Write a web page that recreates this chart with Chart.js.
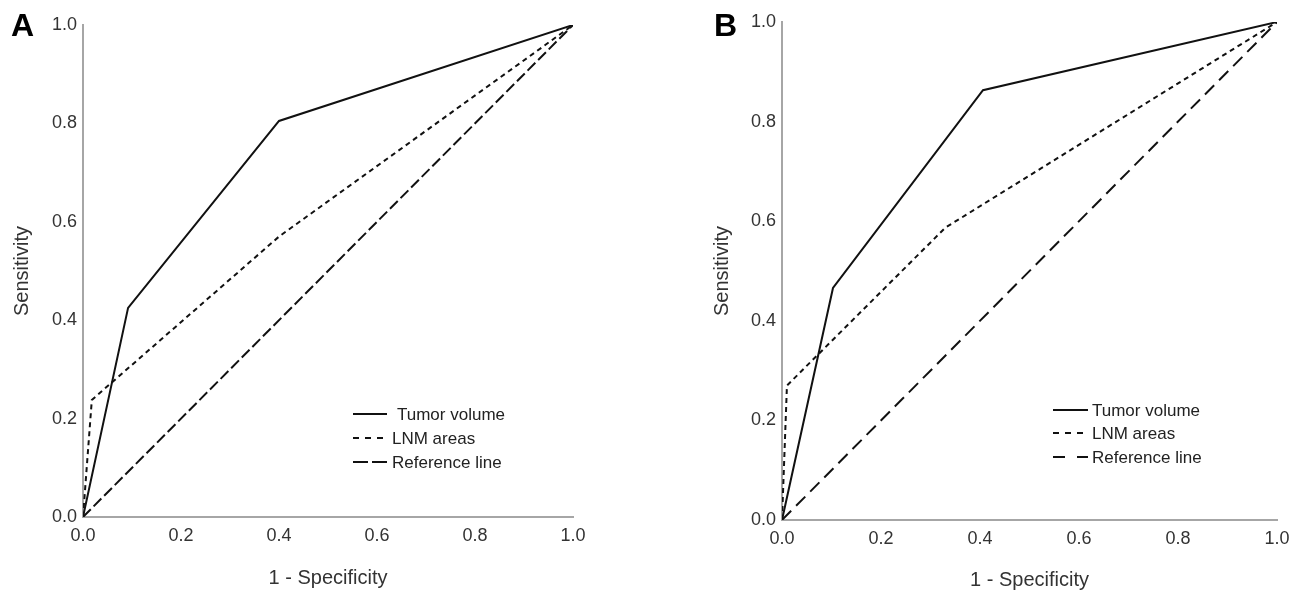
<!DOCTYPE html>
<html><head><meta charset="utf-8">
<script src="https://cdn.jsdelivr.net/npm/chart.js@4.4.1/dist/chart.umd.min.js"></script>
<style>
html,body{margin:0;padding:0;background:#fff;width:1305px;height:597px;overflow:hidden;}
.wrap{position:absolute;top:0;height:597px;}
#wa{left:0;width:650px;}
#wb{left:700px;width:605px;}
.lbl{position:absolute;font:bold 32px "Liberation Sans",Arial,sans-serif;color:#000;line-height:32px;}
</style></head><body>
<div class="wrap" id="wa"><canvas id="ca"></canvas></div>
<div class="wrap" id="wb"><canvas id="cb"></canvas></div>
<div class="lbl" style="left:11px;top:9px">A</div>
<div class="lbl" style="left:714px;top:9px">B</div>
<script>
// ---- data ----
const tickValues = [0, 0.2, 0.4, 0.6, 0.8, 1.0];
const seriesNames = ['Tumor volume', 'LNM areas', 'Reference line'];
const xTitle = '1 - Specificity';
const yTitle = 'Sensitivity';

// Panel A
const aTumorX = [0, 0.092, 0.40, 1.0];
const aTumorY = [0, 0.425, 0.805, 1.0];
const aLnmX   = [0, 0.018, 0.40, 1.0];
const aLnmY   = [0, 0.238, 0.570, 1.0];
const aRefX   = [0, 1.0];
const aRefY   = [0, 1.0];

// Panel B
const bTumorX = [0, 0.103, 0.406, 1.0];
const bTumorY = [0, 0.466, 0.863, 1.0];
const bLnmX   = [0, 0.010, 0.330, 1.0];
const bLnmY   = [0, 0.270, 0.587, 1.0];
const bRefX   = [0, 1.0];
const bRefY   = [0, 1.0];

const FONT = '"Liberation Sans", Arial, sans-serif';
const pts = (xs, ys) => xs.map((x, i) => ({x, y: ys[i]}));

const rocLegend = {
  id: 'rocLegend',
  afterDatasetsDraw(chart, args, o) {
    const ctx = chart.ctx;
    ctx.save();
    chart.data.datasets.forEach((ds, i) => {
      const y = o.rows[i];
      ctx.beginPath();
      ctx.setLineDash(o.dashes[i]);
      ctx.lineWidth = 2;
      ctx.strokeStyle = '#111';
      ctx.moveTo(o.x0, y);
      ctx.lineTo(o.x1, y);
      ctx.stroke();
      ctx.setLineDash([]);
      ctx.fillStyle = '#222';
      ctx.font = '17px ' + FONT;
      ctx.textBaseline = 'middle';
      ctx.fillText(ds.label, o.tx[i], y + 1);
    });
    ctx.restore();
  }
};

function makeChart(id, data, cfg) {
  const ds = [
    {label: seriesNames[0], data: pts(data[0], data[1]), borderDash: []},
    {label: seriesNames[1], data: pts(data[2], data[3]), borderDash: [5, 4]},
    {label: seriesNames[2], data: pts(data[4], data[5]), borderDash: cfg.refDash}
  ].map(d => Object.assign(d, {showLine: true, borderColor: '#111', borderWidth: 2,
        pointRadius: 0, fill: false, tension: 0, borderCapStyle: 'butt'}));
  const tickCb = v => Number(v).toFixed(1);
  const setTicks = s => { s.ticks = tickValues.map(v => ({value: v})); };
  return new Chart(document.getElementById(id), {
    type: 'scatter',
    data: {datasets: ds},
    plugins: [rocLegend],
    options: {
      responsive: true, maintainAspectRatio: false, animation: false,
      layout: {padding: cfg.pad},
      plugins: {legend: {display: false}, tooltip: {enabled: false}, rocLegend: cfg.legend},
      scales: {
        x: {
          type: 'linear', min: 0, max: 1,
          afterBuildTicks: setTicks,
          afterFit: s => { s.height = cfg.xh; },
          grid: {display: false},
          border: {display: true, color: '#a6a6a6', width: 2},
          ticks: {callback: tickCb, font: {size: 18, family: FONT}, color: '#333', padding: 0, maxRotation: 0, autoSkip: false},
          title: {display: true, text: xTitle, font: {size: 20, family: FONT}, color: '#333', padding: {top: 4, bottom: cfg.xtp}}
        },
        y: {
          type: 'linear', min: 0, max: 1,
          afterBuildTicks: setTicks,
          afterFit: s => { s.width = cfg.yw; },
          grid: {display: false},
          border: {display: true, color: '#a6a6a6', width: 2},
          ticks: {callback: tickCb, font: {size: 18, family: FONT}, color: '#333', padding: -2, autoSkip: false},
          title: {display: true, text: yTitle, font: {size: 20, family: FONT}, color: '#333', padding: {top: 10, bottom: 0}}
        }
      }
    }
  });
}

makeChart('ca', [aTumorX, aTumorY, aLnmX, aLnmY, aRefX, aRefY], {
  pad: {top: 25, right: 77, left: 0, bottom: 0}, xh: 80, yw: 83, xtp: 7,
  refDash: [11, 4],
  legend: {x0: 353, x1: 387, rows: [414, 438, 462], tx: [397, 392, 392], dashes: [[], [6, 6], [15, 4]]}
});
makeChart('cb', [bTumorX, bTumorY, bLnmX, bLnmY, bRefX, bRefY], {
  pad: {top: 22, right: 28, left: 0, bottom: 0}, xh: 77, yw: 82, xtp: 5,
  refDash: [13, 7],
  legend: {x0: 353, x1: 388, rows: [410, 433, 457], tx: [392, 392, 392], dashes: [[], [6, 6], [12, 12]]}
});
</script>
</body></html>
